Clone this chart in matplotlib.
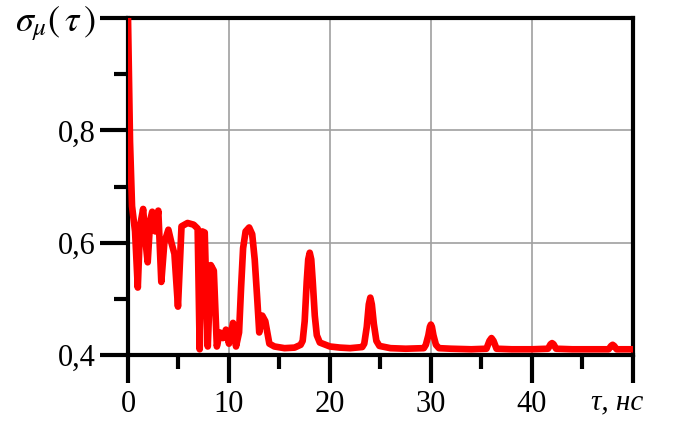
import numpy as np
import matplotlib
matplotlib.use('Agg')
import matplotlib.pyplot as plt
from matplotlib.ticker import MultipleLocator
import matplotlib.transforms as mtransforms

# Autocorrelation-like curve
tau = [0.0, 0.2, 0.4, 0.7, 0.97, 1.2, 1.5, 1.75, 1.95, 2.2, 2.4, 2.7, 3.0, 3.3,
       3.6, 4.0, 4.3, 4.6, 4.95, 5.3, 5.9, 6.5, 6.9, 7.1, 7.35, 7.6, 7.9, 8.2,
       8.5, 8.8, 9.1, 9.4, 9.7, 10.0, 10.4, 10.7, 11.0, 11.2, 11.4, 11.65, 12.0,
       12.3, 12.55, 12.8, 13.0, 13.3, 13.6, 14.0, 14.5, 15.5, 16.5, 17.1, 17.3,
       17.5, 17.7, 17.85, 18.0, 18.15, 18.3, 18.5, 18.7, 19.0, 20.0, 21.0, 22.0,
       23.2, 23.4, 23.65, 23.85, 24.0, 24.15, 24.35, 24.6, 24.9, 26.0, 27.5,
       29.3, 29.5, 29.75, 29.9, 30.0, 30.1, 30.25, 30.5, 30.8, 32.0, 34.0, 35.5,
       35.8, 36.0, 36.2, 36.5, 38.0, 40.0, 41.6, 41.85, 42.0, 42.15, 42.4, 44.0,
       46.0, 47.6, 47.85, 48.0, 48.15, 48.4, 50.0]
sigma = [1.00, 0.78, 0.665, 0.62, 0.52, 0.63, 0.66, 0.60, 0.565, 0.64, 0.655, 0.62,
         0.657, 0.53, 0.60, 0.623, 0.60, 0.58, 0.486, 0.629, 0.635, 0.632, 0.625,
         0.41, 0.62, 0.618, 0.415, 0.56, 0.55, 0.415, 0.44, 0.43, 0.445, 0.42,
         0.457, 0.415, 0.44, 0.52, 0.59, 0.62, 0.627, 0.615, 0.57, 0.50, 0.44,
         0.47, 0.46, 0.42, 0.415, 0.412, 0.413, 0.418, 0.425, 0.46, 0.53, 0.57,
         0.582, 0.57, 0.53, 0.47, 0.435, 0.422, 0.415, 0.413, 0.412, 0.414, 0.42,
         0.45, 0.49, 0.502, 0.49, 0.455, 0.425, 0.416, 0.412, 0.411, 0.412, 0.418,
         0.435, 0.45, 0.454, 0.45, 0.435, 0.418, 0.412, 0.411, 0.41, 0.411, 0.425,
         0.43, 0.425, 0.411, 0.41, 0.41, 0.411, 0.419, 0.421, 0.419, 0.411, 0.41,
         0.41, 0.41, 0.416, 0.418, 0.416, 0.41, 0.41]

x_ticks = [0, 10, 20, 30, 40, 50]
x_labels = ['0', '10', '20', '30', '40', r'τ, нс']
y_ticks = [0.4, 0.6, 0.8, 1.0]
y_labels = ['0,4', '0,6', '0,8', r'$\sigma_{\mu}(\,\tau\,)$']

plt.rcParams['font.family'] = ['Liberation Serif', 'DejaVu Serif']
plt.rcParams['mathtext.fontset'] = 'stix'

fig = plt.figure(figsize=(6.79, 4.21), dpi=100)
ax = fig.add_axes([0.1885, 0.157, 0.7435, 0.8])

ax.plot(tau, sigma, color='#ff0000', linewidth=4.8, solid_joinstyle='round', zorder=3)

ax.set_xlim(0, 50)
ax.set_ylim(0.4, 1.0)

ax.set_xticks(x_ticks)
ax.set_xticklabels(x_labels)
ax.set_yticks(y_ticks)
ax.set_yticklabels(y_labels)
ax.xaxis.set_minor_locator(MultipleLocator(5))
ax.yaxis.set_minor_locator(MultipleLocator(0.1))

ax.tick_params(which='major', length=20, width=3, labelsize=22, pad=3)
ax.tick_params(which='minor', length=10, width=3)
ax.tick_params(axis='x', which='major', pad=5)

for spine in ax.spines.values():
    spine.set_linewidth(3)

ax.grid(True, which='major', color='#a0a0a0', linewidth=1.2, zorder=0)
ax.set_axisbelow(True)

# italic axis name at the last x tick
last = ax.get_xticklabels()[-1]
last.set_style('italic')
last.set_fontsize(21)
last.set_transform(last.get_transform() +
                   mtransforms.ScaledTranslation(-16 / 100, 0, fig.dpi_scale_trans))
ax.get_yticklabels()[-1].set_fontsize(26)

fig.savefig('out.png', dpi=100)
